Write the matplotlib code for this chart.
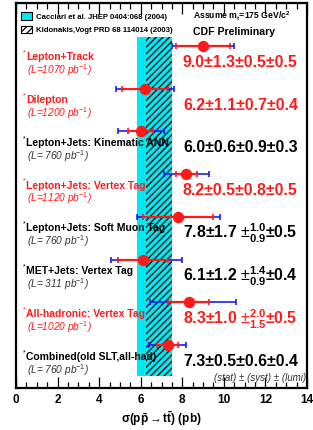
import matplotlib
matplotlib.use("Agg")
import matplotlib.pyplot as plt
from matplotlib.patches import Rectangle

plt.rcParams['font.family'] = ['Liberation Sans', 'DejaVu Sans']
plt.rcParams['mathtext.fontset'] = 'custom'
plt.rcParams['mathtext.rm'] = 'Liberation Sans'
plt.rcParams['mathtext.it'] = 'Liberation Sans:italic'
plt.rcParams['mathtext.bf'] = 'Liberation Sans:bold'
plt.rcParams['hatch.linewidth'] = 0.9

# ---- data ----
names = ["Lepton+Track", "Dilepton", "Lepton+Jets: Kinematic ANN", "Lepton+Jets: Vertex Tag",
         "Lepton+Jets: Soft Muon Tag", "MET+Jets: Vertex Tag", "All-hadronic: Vertex Tag",
         "Combined(old SLT,all-had)"]
lumis = ["(L=1070 pb$^{-1}$)", "(L=1200 pb$^{-1}$)", "(L= 760 pb$^{-1}$)", "(L=1120 pb$^{-1}$)",
         "(L= 760 pb$^{-1}$)", "(L= 311 pb$^{-1}$)", "(L=1020 pb$^{-1}$)", "(L= 760 pb$^{-1}$)"]
xsec = [9.0, 6.2, 6.0, 8.2, 7.8, 6.1, 8.3, 7.3]
stat_err = [1.3, 1.1, 0.6, 0.5, 1.7, 1.2, 1.0, 0.5]
tot_lo = [1.5, 1.4, 1.1, 1.1, 2.0, 1.55, 1.87, 0.88]
tot_hi = [1.5, 1.4, 1.1, 1.1, 2.0, 1.89, 2.29, 0.88]
value_texts = [
    "9.0\u00b11.3\u00b10.5\u00b10.5",
    "6.2\u00b11.1\u00b10.7\u00b10.4",
    "6.0\u00b10.6\u00b10.9\u00b10.3",
    "8.2\u00b10.5\u00b10.8\u00b10.5",
    "7.8\u00b11.7 $\\pm^{\\mathbf{1.0}}_{\\mathbf{0.9}}$\u00b10.5",
    "6.1\u00b11.2 $\\pm^{\\mathbf{1.4}}_{\\mathbf{0.9}}$\u00b10.4",
    "8.3\u00b11.0 $\\pm^{\\mathbf{2.0}}_{\\mathbf{1.5}}$\u00b10.5",
    "7.3\u00b10.5\u00b10.6\u00b10.4",
]
is_red = [True, True, False, True, False, False, True, False]
theory_cacciari = (5.82, 7.49)
theory_kidonakis = (6.25, 7.49)
y_pos = [8, 7, 6, 5, 4, 3, 2, 1]

RED = '#ff1a1a'
BLUE = '#1a1aff'

fig = plt.figure(figsize=(3.13, 4.30), dpi=100)
ax = fig.add_axes([16/313, 42/430, 291/313, 385/430])
ax.set_xlim(0, 14)
ax.set_ylim(0, 9)

band_y0, band_y1 = 0.28, 8.2
ax.fill_between(theory_cacciari, band_y0, band_y1, color='#00e8f2', lw=0, zorder=1)
ax.fill_between(theory_kidonakis, band_y0, band_y1, facecolor='none', edgecolor='black',
                hatch='/////', lw=0, zorder=2)

for i, y in enumerate(y_pos):
    x = xsec[i]
    ax.errorbar([x], [y], xerr=[[tot_lo[i]], [tot_hi[i]]], fmt='none', ecolor=BLUE,
                elinewidth=1.2, capsize=2, capthick=1.2, zorder=3)
    ax.errorbar([x], [y], xerr=[[stat_err[i]], [stat_err[i]]], fmt='none', ecolor=RED,
                elinewidth=1.6, capsize=2, capthick=1.2, zorder=4)
    ax.plot([x], [y], 'o', color=RED, ms=7.2, zorder=5)
    col = RED if is_red[i] else 'black'
    lcol = RED if is_red[i] else '#333333'
    ax.text(0.34, y - 0.17, "*", fontsize=5, color=col, ha='left', va='center', zorder=6)
    ax.text(0.48, y - 0.27, names[i], fontsize=7.5, fontweight='bold', color=col,
            ha='left', va='center', zorder=6)
    ax.text(0.53, y - 0.57, lumis[i], fontsize=7.3, style='italic', color=lcol,
            ha='left', va='center', zorder=6)
    ax.text(8.03, y - 0.385, value_texts[i], fontsize=11.4, fontweight='bold', color=col,
            ha='left', va='center', zorder=6)

ax.text(13.97, 0.24, "(stat) \u00b1 (syst) \u00b1 (lumi)", fontsize=7, style='italic',
        color='#333333', ha='right', va='center')

# legend
ax.add_patch(Rectangle((0.255, 8.598), 0.525, 0.187, facecolor='#00e8f2', edgecolor='black', lw=0.8))
ax.add_patch(Rectangle((0.255, 8.294), 0.525, 0.171, facecolor='white', edgecolor='black',
                       hatch='/////', lw=0.8))
ax.text(0.96, 8.67, "Cacciari et al. JHEP 0404:068 (2004)", fontsize=5.6, fontweight='bold',
        ha='left', va='center')
ax.text(0.96, 8.36, "Kidonakis,Vogt PRD 68 114014 (2003)", fontsize=5.6, fontweight='bold',
        ha='left', va='center')
ax.text(8.51, 8.68, "Assume m$_{\\mathbf{t}}$=175 GeV/c$^{\\mathbf{2}}$", fontsize=6.2, fontweight='bold',
        ha='left', va='center')
ax.text(8.51, 8.32, "CDF Preliminary", fontsize=7.6, fontweight='bold', ha='left', va='center')

ax.set_xticks([0, 2, 4, 6, 8, 10, 12, 14])
ax.set_xticks([v * 0.5 for v in range(29)], minor=True)
ax.set_yticks([])
ax.tick_params(axis='x', which='major', direction='in', length=8, width=0.9, top=True,
               labelsize=8.5, pad=4)
ax.tick_params(axis='x', which='minor', direction='in', length=4, width=0.9, top=True)
for lab in ax.get_xticklabels():
    lab.set_fontweight('bold')
for s in ax.spines.values():
    s.set_linewidth(1.6)
ax.set_xlabel("$\\mathbf{\\sigma(p\\bar{p} \\rightarrow t\\bar{t})}$ (pb)", fontsize=8.5,
              fontweight='bold', labelpad=3)

fig.savefig("out.png", dpi=100)
